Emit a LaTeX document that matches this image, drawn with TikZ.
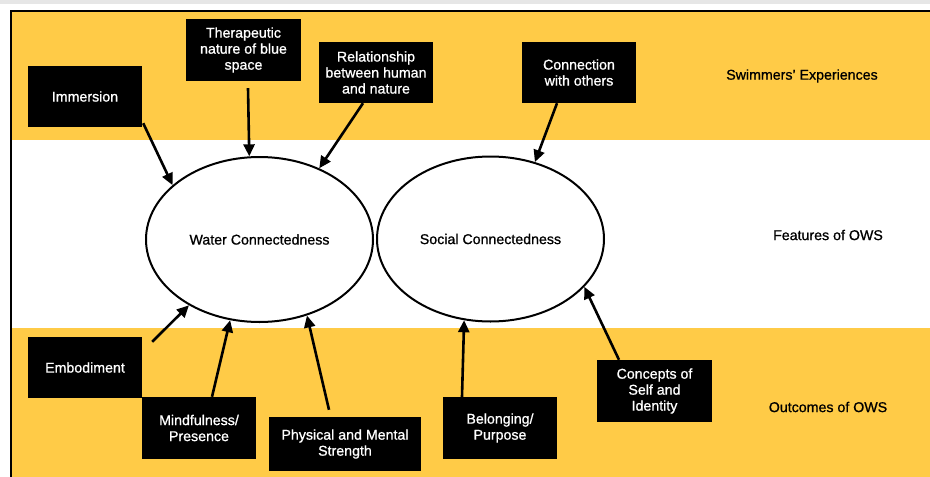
\documentclass[tikz,border=0pt]{standalone}
\usepackage{fontspec}
\setmainfont{Liberation Sans}
\newfontfamily\medfont{Liberation Sans}[FakeBold=0.9]
\usetikzlibrary{shapes.geometric,arrows.meta}
\definecolor{bandyellow}{HTML}{FFCB47}
\definecolor{topgray}{HTML}{E6E6E6}
\begin{document}
\begin{tikzpicture}[x=1pt,y=-1pt,
  txt/.style={font=\medfont\fontsize{14.2}{16}\selectfont},
  darkbox/.style={txt, fill=black, text=white, align=center, inner sep=0pt},
  bubble/.style={txt, ellipse, draw=black, line width=2pt, fill=white, inner sep=0pt,
                 minimum width=227, minimum height=165},
  band/.style={txt, text=black},
  conn/.style={line width=2.6pt, -{Triangle[length=12pt,width=11pt]}}]

% canvas and bands
\useasboundingbox (0,0) rectangle (930,477);
\fill[white] (0,0) rectangle (930,477);
\fill[topgray] (0,0) rectangle (930,4);
\fill[bandyellow] (11,11) rectangle (930,140);
\fill[white] (11,140) rectangle (930,328);
\fill[bandyellow] (11,328) rectangle (930,477);
\draw[line width=2pt] (10.5,477) -- (10.5,10.5) -- (930,10.5);

% band labels
\node[band] (lexp) at (802,76) {Swimmers’ Experiences};
\node[band] (lfeat) at (828,235) {Features of OWS};
\node[band] (lout) at (828,407) {Outcomes of OWS};

% central features
\node[bubble] (water) at (259.5,239.5) {Water Connectedness};
\node[bubble] (social) at (490.5,239) {Social Connectedness};

% experiences
\node[darkbox, minimum width=114, minimum height=61] (imm) at (85,96.5) {Immersion};
\node[darkbox, minimum width=115, minimum height=62] (ther) at (243.5,50) {Therapeutic\\nature of blue\\space};
\node[darkbox, minimum width=114, minimum height=61] (rel) at (376,72.5) {Relationship\\between human\\and nature};
\node[darkbox, minimum width=114, minimum height=61] (con) at (579,72.5) {Connection\\with others};

% outcomes
\node[darkbox, minimum width=114, minimum height=61] (emb) at (85,367.5) {Embodiment};
\node[darkbox, minimum width=114, minimum height=62] (mind) at (199,428) {Mindfulness/\\Presence};
\node[darkbox, minimum width=152, minimum height=54] (phys) at (345,444) {Physical and Mental\\Strength};
\node[darkbox, minimum width=114, minimum height=62] (bel) at (500,428) {Belonging/\\Purpose};
\node[darkbox, minimum width=115, minimum height=62] (conc) at (654.5,391) {Concepts of\\Self and\\Identity};

% experiences feed the features
\draw[conn] ([xshift=1pt,yshift=4pt]imm.south east) -- (water.148);
\draw[conn] ([xshift=4.5pt,yshift=-7pt]ther.south) -- (water.97);
\draw[conn] ([xshift=-13pt]rel.south) -- (water.50);
\draw[conn] ([xshift=-22pt]con.south) -- (social.60);

% features lead to outcomes
\draw[conn] ([xshift=10pt,yshift=-5pt]emb.north east) -- (water.223);
\draw[conn] ([xshift=13pt]mind.north) -- (water.250);
\draw[conn] ([xshift=-16pt,yshift=7pt]phys.north) -- (water.302);
\draw[conn] ([xshift=-38pt]bel.north) -- (social.252);
\draw[conn] ([xshift=-35.5pt]conc.north) -- (social.333);
\end{tikzpicture}
\end{document}
